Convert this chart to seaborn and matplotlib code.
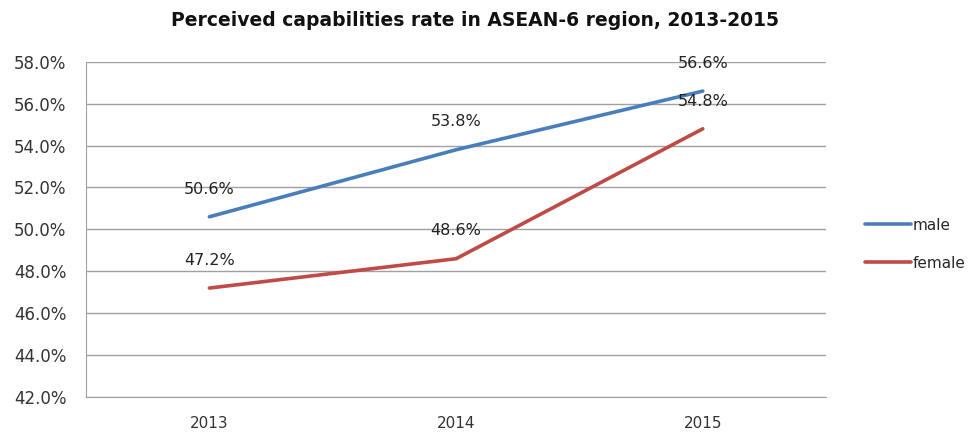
import matplotlib
matplotlib.use("Agg")
import matplotlib.pyplot as plt
import pandas as pd
import seaborn as sns

years = ["2013", "2014", "2015"]
male = [50.6, 53.8, 56.6]
female = [47.2, 48.6, 54.8]
series_names = ["male", "female"]
colors = {"male": "#4a7ebb", "female": "#be4b48"}

df = pd.DataFrame({
    "year": years * 2,
    "rate": male + female,
    "gender": ["male"] * len(years) + ["female"] * len(years),
})
df["x"] = df["year"].map({y: i for i, y in enumerate(years)})

sns.set_style("white")
plt.rcParams["font.family"] = ["DejaVu Sans"]

fig = plt.figure(figsize=(9.7, 4.36), dpi=100)
ax = fig.add_axes([0.0887, 0.0894, 0.763, 0.769])

sns.lineplot(data=df, x="x", y="rate", hue="gender", hue_order=series_names,
             palette=colors, linewidth=2.6, ax=ax, legend=False)

for _, row in df.iterrows():
    ax.annotate(f"{row['rate']:.1f}%", (row["x"], row["rate"]), xytext=(0, 20),
                textcoords="offset points", ha="center", va="center",
                fontsize=11.5, color="#222222")

ax.set_xlim(-0.5, 2.5)
ax.set_ylim(42, 58)
ax.set_yticks([42 + 2 * i for i in range(9)])
ax.set_yticklabels([f"{42 + 2 * i:.1f}%" for i in range(9)], fontsize=12, color="#333333")
ax.set_xticks(range(len(years)))
ax.set_xticklabels(years, fontsize=11, color="#333333")
ax.tick_params(axis="x", pad=14, length=0)
ax.tick_params(axis="y", pad=14, length=0)
ax.set_xlabel("")
ax.set_ylabel("")
ax.grid(axis="y", color="#a0a0a0", linewidth=1)
ax.set_axisbelow(True)
for side in ["top", "right"]:
    ax.spines[side].set_visible(False)
ax.spines["left"].set_color("#a0a0a0")
ax.spines["bottom"].set_color("#a0a0a0")

handles = [plt.Line2D([], [], color=colors[n], linewidth=2.6) for n in series_names]
fig.legend(handles, series_names, loc="center left", bbox_to_anchor=(0.878, 0.44),
           frameon=False, fontsize=11, handlelength=3.0, labelspacing=1.5,
           handletextpad=0.1)

fig.suptitle("Perceived capabilities rate in ASEAN-6 region, 2013-2015",
             x=0.49, y=0.975, fontsize=13.5, fontweight="bold", color="#111111")

fig.savefig("out.png", dpi=100)
